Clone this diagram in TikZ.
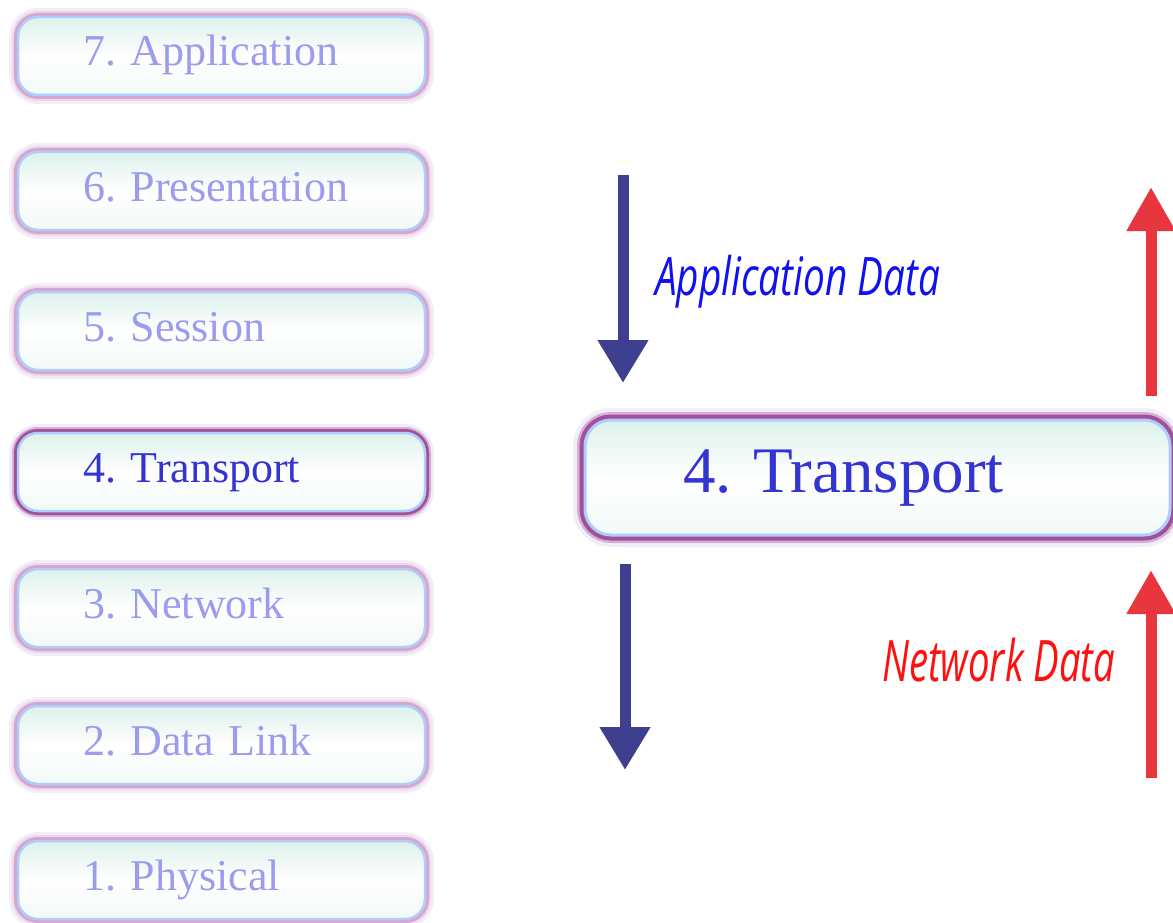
\documentclass[tikz,border=0pt]{standalone}
\usepackage{fontspec}
\setmainfont{Liberation Serif}
\newfontfamily\handfont{Open Sans}
\usetikzlibrary{arrows.meta}
\frenchspacing
\definecolor{glowc}{HTML}{F1EEF9}
\definecolor{pinkc}{HTML}{D6A6CF}
\definecolor{purplec}{HTML}{A2509C}
\definecolor{innerc}{HTML}{AECDFB}
\definecolor{mintc}{HTML}{DDF1EC}
\definecolor{lighttxt}{HTML}{9C9CEE}
\definecolor{darktxt}{HTML}{3434D2}
\definecolor{arrowblue}{HTML}{3F3F90}
\definecolor{arrowred}{HTML}{E8363F}
\definecolor{handblue}{HTML}{1010F0}
\definecolor{handred}{HTML}{FF1010}
\tikzset{
  layerbox/.style={rectangle, rounded corners=20pt, draw=innerc, line width=2.5pt,
    top color=mintc, bottom color=mintc!40, middle color=white,
    preaction={draw=glowc, line width=18pt},
    preaction={draw=#1!45, line width=12pt},
    preaction={draw=#1, line width=8pt},
    minimum width=407pt, minimum height=78pt, inner ysep=0pt, inner xsep=65pt,
    text width=277pt, align=left, text height=31pt, text depth=11pt,
    font=\fontsize{44}{50}\selectfont},
  layerbox/.default=pinkc,
  bigbox/.style={rectangle, rounded corners=26pt, draw=innerc, line width=3pt,
    top color=mintc, bottom color=mintc!40, middle color=white,
    preaction={draw=glowc, line width=24pt},
    preaction={draw=purplec!45, line width=16pt},
    preaction={draw=purplec, line width=11pt},
    minimum width=585pt, minimum height=115pt, inner ysep=0pt, inner xsep=98pt,
    text width=389pt, align=left, text height=45pt, text depth=16pt,
    font=\fontsize{65}{72}\selectfont, text=darktxt},
  downarrow/.style={draw=arrowblue, line width=11pt, -{Triangle[width=48pt,length=43pt]}},
  uparrow/.style={draw=arrowred, line width=11pt, -{Triangle[width=46pt,length=44pt]}},
  handlabel/.style={inner sep=0pt, anchor=north west}
}
\begin{document}
\begin{tikzpicture}[x=1pt,y=-1pt]
\useasboundingbox[fill=white] (0,0) rectangle (1173,923);
\node[layerbox, text=lighttxt] (l7) at (221.5,56) {7. Application};
\node[layerbox, text=lighttxt] (l6) at (221.5,191) {6. Presentation};
\node[layerbox, text=lighttxt] (l5) at (221.5,331) {5. Session};
\node[layerbox=purplec, text=darktxt] (l4) at (221.5,472) {4. Transport};
\node[layerbox, text=lighttxt] (l3) at (221.5,608) {3. Network};
\node[layerbox, text=lighttxt] (l2) at (221.5,745) {2. Data Link};
\node[layerbox, text=lighttxt] (l1) at (221.5,880) {1. Physical};

\node[bigbox] (big) at (877.5,477.5) {4. Transport};

\coordinate (d1s) at (623,175);
\coordinate (d1e) at (623,383);
\coordinate (d2s) at (625,564);
\coordinate (d2e) at (625,770);
\coordinate (u1s) at (1151,396);
\coordinate (u1e) at (1151,187);
\coordinate (u2s) at (1151,778);
\coordinate (u2e) at (1151,570);
\draw[downarrow] (d1s) -- (d1e);
\draw[downarrow] (d2s) -- (d2e);
\draw[uparrow] (u1s) -- (u1e);
\draw[uparrow] (u2s) -- (u2e);

\node[handlabel, text=handblue] (appdata) at (655,255)
  {\resizebox*{285pt}{53pt}{\handfont\itshape Application Data}};
\node[handlabel, text=handred] (netdata) at (882,638)
  {\resizebox*{233pt}{44pt}{\handfont\itshape Network Data}};
\end{tikzpicture}
\end{document}
